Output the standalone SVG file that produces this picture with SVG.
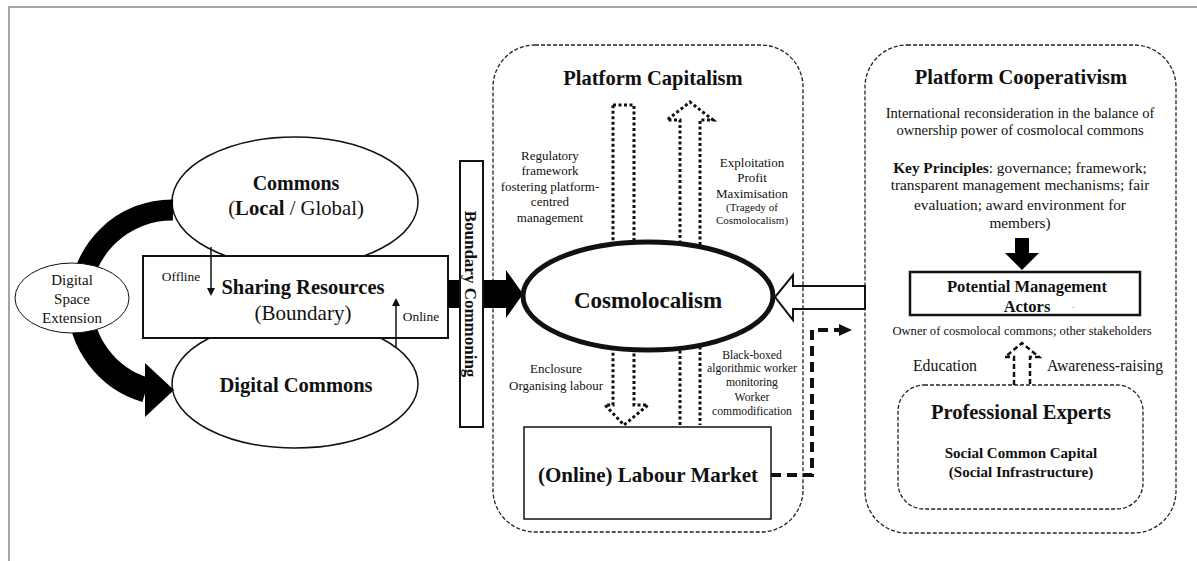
<svg xmlns="http://www.w3.org/2000/svg" width="1197" height="561" viewBox="0 0 1197 561" font-family="'Liberation Serif', serif">
<style>
text{font-family:'Liberation Serif',serif;fill:#111;text-anchor:middle}
.b{font-weight:bold}
.node{fill:#fff;stroke:#111}
.dashbox{fill:none;stroke:#222;stroke-width:1.3;stroke-dasharray:4 2}
.dot{fill:none;stroke:#111;stroke-width:3;stroke-dasharray:3 2.5}
</style>
<defs>
<marker id="ah" markerWidth="8" markerHeight="8" refX="4" refY="4" orient="auto" markerUnits="userSpaceOnUse"><path d="M0,0 L8,4 L0,8 Z" fill="#111"/></marker>
</defs>
<rect width="1197" height="561" fill="#fff"/>
<path d="M9,561 V7 H1197" fill="none" stroke="#a6a6a6" stroke-width="2"/>

<g id="platform-capitalism">
<rect class="dashbox" x="493" y="45" width="310" height="487" rx="42"/>
<text class="b" x="653" y="85" font-size="20.5">Platform Capitalism</text>
<text x="550" y="160" font-size="13">Regulatory</text>
<text x="550" y="175" font-size="13">framework</text>
<text x="550" y="191" font-size="13">fostering platform-</text>
<text x="550" y="206" font-size="13">centred</text>
<text x="550" y="222" font-size="13">management</text>
<text x="752" y="167" font-size="13">Exploitation</text>
<text x="752" y="182" font-size="13">Profit</text>
<text x="752" y="198" font-size="13">Maximisation</text>
<text x="752" y="211" font-size="11">(Tragedy of</text>
<text x="752" y="224" font-size="11">Cosmolocalism)</text>
<text x="556" y="373" font-size="13">Enclosure</text>
<text x="556" y="390" font-size="13">Organising labour</text>
<text x="752" y="359" font-size="11.7">Black-boxed</text>
<text x="752" y="372" font-size="11.7">algorithmic worker</text>
<text x="752" y="386" font-size="11.7">monitoring</text>
<text x="752" y="401" font-size="11.7">Worker</text>
<text x="752" y="415" font-size="11.7">commodification</text>
</g>

<g id="platform-cooperativism">
<rect class="dashbox" x="865" y="45" width="311" height="488" rx="42"/>
<text class="b" x="1021" y="84" font-size="20.5">Platform Cooperativism</text>
<text x="1020" y="118" font-size="14.6">International reconsideration in the balance of</text>
<text x="1020" y="135" font-size="14.6">ownership power of cosmolocal commons</text>
<text x="1020" y="173" font-size="15.3"><tspan class="b">Key Principles</tspan>: governance; framework;</text>
<text x="1020" y="190" font-size="15.3">transparent management mechanisms; fair</text>
<text x="1020" y="210" font-size="15.3">evaluation; award environment for</text>
<text x="1020" y="228" font-size="15.3">members)</text>
<text x="1022" y="335" font-size="12.6">Owner of cosmolocal commons; other stakeholders</text>
<text x="945" y="371" font-size="15.8">Education</text>
<text x="1105" y="371" font-size="15.8">Awareness-raising</text>
</g>

<g id="commons">
<ellipse class="node" cx="295" cy="202" rx="123" ry="65" stroke-width="1.5"/>
<text class="b" x="296" y="190" font-size="20">Commons</text>
<text x="296" y="215" font-size="20.7">(<tspan class="b">Local</tspan> / Global)</text>
</g>

<g id="digital-commons">
<ellipse class="node" cx="295" cy="384" rx="123" ry="64" stroke-width="1.5"/>
<text class="b" x="296" y="392" font-size="20.5">Digital Commons</text>
</g>

<g id="sharing-resources">
<rect class="node" x="143" y="256" width="305" height="82" stroke-width="2"/>
<text class="b" x="303" y="294" font-size="20.5">Sharing Resources</text>
<text x="303" y="320" font-size="21">(Boundary)</text>
<text x="181" y="281" font-size="13.4">Offline</text>
<text x="421" y="321" font-size="13.4">Online</text>
</g>

<g id="labour-market">
<rect class="node" x="524" y="427" width="247" height="92" stroke-width="1.5"/>
<text class="b" x="648" y="482" font-size="21">(Online) Labour Market</text>
</g>

<g id="potential-management-actors">
<rect class="node" x="910" y="272" width="230" height="43" stroke-width="2.5"/>
<text class="b" x="1027" y="292" font-size="16.5">Potential Management</text>
<text class="b" x="1027" y="312" font-size="16.5">Actors</text>
<text x="1073" y="310" font-size="9" style="fill:#aaa">-</text>
</g>

<g id="professional-experts">
<rect class="dashbox" x="898" y="385" width="245" height="124" rx="26"/>
<text class="b" x="1021" y="419" font-size="20.5">Professional Experts</text>
<text class="b" x="1021" y="458" font-size="15">Social Common Capital</text>
<text class="b" x="1021" y="477" font-size="15">(Social Infrastructure)</text>
</g>

<g id="connectors">
<path d="M173,210 A92,92 0 0 0 80,302" fill="none" stroke="#000" stroke-width="21"/>
<path d="M80,302 A92,92 0 0 0 146,390" fill="none" stroke="#000" stroke-width="25"/>
<polygon points="145,363 174,390 145,417" fill="#000"/>
<line x1="211" y1="247" x2="211" y2="292" stroke="#111" stroke-width="1.5" marker-end="url(#ah)"/>
<line x1="396" y1="347" x2="396" y2="302" stroke="#111" stroke-width="1.5" marker-end="url(#ah)"/>
<polygon points="448,280 506,280 506,270 523,294 506,318 506,308 448,308" fill="#000"/>
<polygon class="dot" points="613,105 634,105 634,405 648,405 624,425 605,405 613,405"/>
<polyline class="dot" points="680,425 680,120 667,120 690,102 713,120 700,120 700,425"/>
<polygon points="865,286 793,286 793,275 775,297 793,320 793,309 865,309" fill="none" stroke="#111" stroke-width="2"/>
<path d="M771,475 H812 V330 H840" fill="none" stroke="#111" stroke-width="4" stroke-dasharray="10 6"/>
<polygon points="839,324 852,330 839,336" fill="#111"/>
<polygon points="1015,238 1029,238 1029,253 1039,253 1022,270 1005,253 1015,253" fill="#000"/>
<polyline points="1014,385 1014,357 1005,357 1022,343 1039,357 1030,357 1030,385" fill="none" stroke="#111" stroke-width="2.5" stroke-dasharray="5 3"/>
</g>

<g id="digital-space-extension">
<ellipse class="node" cx="72" cy="298" rx="57" ry="35" stroke-width="1"/>
<text x="72" y="285" font-size="15">Digital</text>
<text x="72" y="304" font-size="15">Space</text>
<text x="72" y="323" font-size="15">Extension</text>
</g>

<g id="boundary-commoning">
<rect class="node" x="460" y="161" width="23" height="266" stroke-width="2"/>
<text class="b" transform="translate(471,294) rotate(90)" x="0" y="6" font-size="17">Boundary Commoning</text>
</g>

<g id="cosmolocalism">
<ellipse class="node" cx="648" cy="296" rx="125" ry="54" stroke-width="5"/>
<text class="b" x="648" y="308" font-size="23">Cosmolocalism</text>
</g>
</svg>
